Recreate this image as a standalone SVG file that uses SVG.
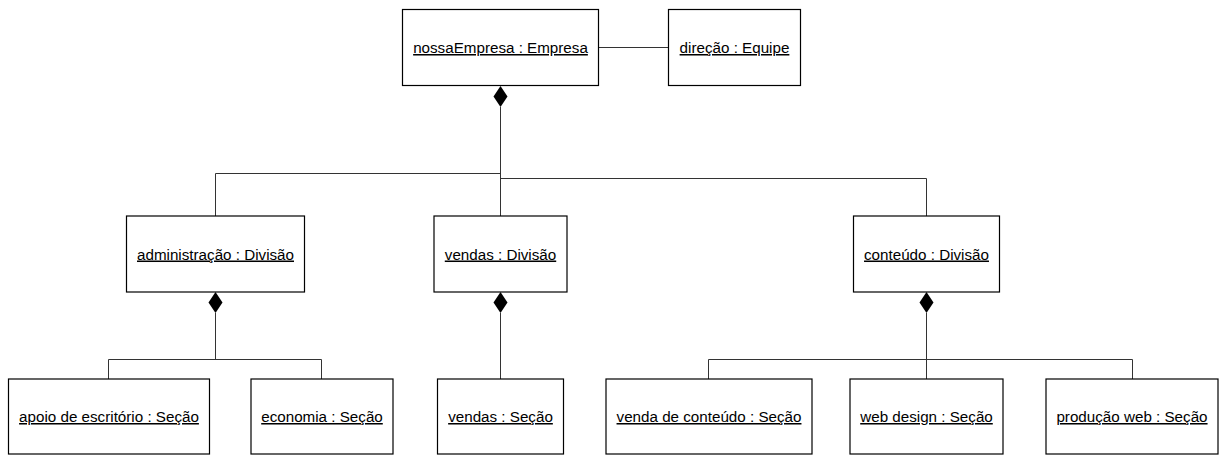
<svg xmlns="http://www.w3.org/2000/svg" width="1220" height="455" viewBox="0 0 1220 455">
  <style>
    .box { fill: #ffffff; stroke: #000000; stroke-width: 1.2; }
    .lbl { font-family: "Liberation Sans", Arial, sans-serif; font-size: 15.2px; fill: #000000; text-anchor: middle; text-decoration: underline; }
    .wire { fill: none; stroke: #333333; stroke-width: 1; }
    .comp { fill: #000000; stroke: none; }
  </style>
  <defs>
    <!-- filled diamond for composition ends, top vertex at origin -->
    <polygon id="diamond" class="comp" points="0,0 7,10.5 0,21 -7,10.5"/>
  </defs>
  <rect width="1220" height="455" fill="#ffffff"/>

  <g id="connectors">
    <!-- nossaEmpresa to direção -->
    <line class="wire" x1="598.5" y1="47.5" x2="668.5" y2="47.5"/>
    <!-- nossaEmpresa to its divisions -->
    <polyline class="wire" points="500.5,107 500.5,216"/>
    <polyline class="wire" points="500.5,173.5 215.5,173.5 215.5,216"/>
    <polyline class="wire" points="500.5,178.5 926.5,178.5 926.5,216"/>
    <use href="#diamond" x="500.5" y="86"/>
    <!-- administração to its sections -->
    <polyline class="wire" points="215.5,313 215.5,359.5"/>
    <polyline class="wire" points="108.5,379 108.5,359.5 321.5,359.5 321.5,379"/>
    <use href="#diamond" x="215.5" y="292"/>
    <!-- vendas to its section -->
    <polyline class="wire" points="500.5,313 500.5,379"/>
    <use href="#diamond" x="500.5" y="292"/>
    <!-- conteúdo to its sections -->
    <polyline class="wire" points="926.5,313 926.5,379"/>
    <polyline class="wire" points="708.5,379 708.5,359.5 1132.5,359.5 1132.5,379"/>
    <use href="#diamond" x="926.5" y="292"/>
  </g>

  <g id="nossaEmpresa">
    <rect class="box" x="402.5" y="9.5" width="196" height="76"/>
    <text class="lbl" x="500.5" y="53">nossaEmpresa : Empresa</text>
  </g>
  <g id="direcao">
    <rect class="box" x="668.5" y="9.5" width="132" height="76"/>
    <text class="lbl" x="734.5" y="53">direção : Equipe</text>
  </g>

  <g id="administracao">
    <rect class="box" x="126.5" y="216" width="178" height="76"/>
    <text class="lbl" x="215.5" y="259.5">administração : Divisão</text>
  </g>
  <g id="vendasDivisao">
    <rect class="box" x="434" y="216" width="133" height="76"/>
    <text class="lbl" x="500.5" y="259.5">vendas : Divisão</text>
  </g>
  <g id="conteudo">
    <rect class="box" x="853.5" y="216" width="146" height="76"/>
    <text class="lbl" x="926.5" y="259.5">conteúdo : Divisão</text>
  </g>

  <g id="apoio">
    <rect class="box" x="8.5" y="379" width="201" height="75"/>
    <text class="lbl" x="109" y="422">apoio de escritório : Seção</text>
  </g>
  <g id="economia">
    <rect class="box" x="251" y="379" width="142" height="75"/>
    <text class="lbl" x="322" y="422">economia : Seção</text>
  </g>
  <g id="vendasSecao">
    <rect class="box" x="437.5" y="379" width="126" height="75"/>
    <text class="lbl" x="500.5" y="422">vendas : Seção</text>
  </g>
  <g id="vendaConteudo">
    <rect class="box" x="606" y="379" width="206" height="75"/>
    <text class="lbl" x="709" y="422">venda de conteúdo : Seção</text>
  </g>
  <g id="webDesign">
    <rect class="box" x="850" y="379" width="153" height="75"/>
    <text class="lbl" x="926.5" y="422">web design : Seção</text>
  </g>
  <g id="producaoWeb">
    <rect class="box" x="1046" y="379" width="172" height="75"/>
    <text class="lbl" x="1132" y="422">produção web : Seção</text>
  </g>
</svg>
